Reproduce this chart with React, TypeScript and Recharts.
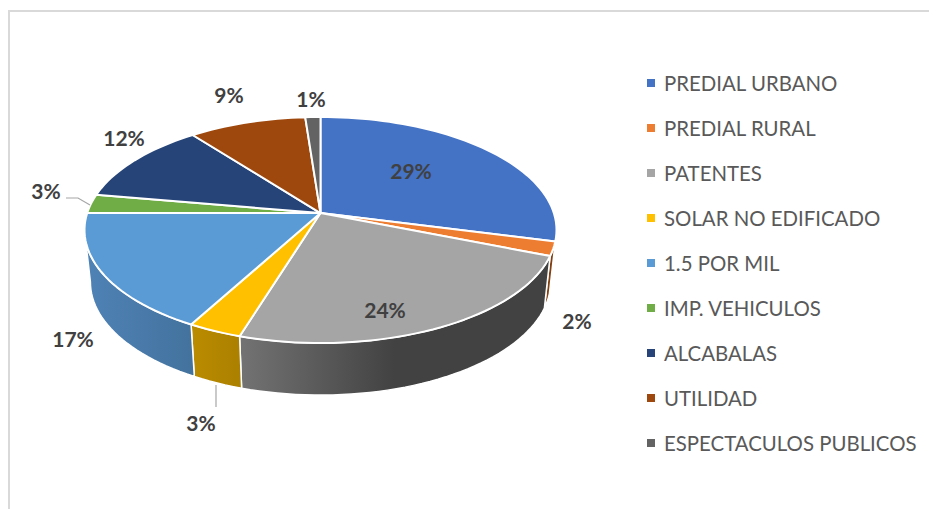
import React from "react";
import { PieChart, Pie, Legend } from "recharts";

const categories = [
  "PREDIAL URBANO",
  "PREDIAL RURAL",
  "PATENTES",
  "SOLAR NO EDIFICADO",
  "1.5 POR MIL",
  "IMP. VEHICULOS",
  "ALCABALAS",
  "UTILIDAD",
  "ESPECTACULOS PUBLICOS"
];
const shares = [29, 2, 23.8, 3.2, 17, 2.7, 11.8, 9.3, 1.2];
const colors = ["#4472C4", "#ED7D31", "#A5A5A5", "#FFC000", "#5B9BD5", "#70AD47", "#264478", "#9E480E", "#636363"];

// side wall gradient per slice, only the front ones show
const wallStops = [
  ["#2f5597", "#2f5597"],
  ["#8a4413", "#7a3c10"],
  ["#737373", "#424242", "#424242"],
  ["#bb8c00", "#ab7f00"],
  ["#4f82b6", "#43729d"],
  ["#527f34", "#527f34"],
  ["#1c3258", "#1c3258"],
  ["#74350a", "#74350a"],
  ["#494949", "#494949"]
];

// label centres, placed by hand like the original
const labelSpots = [
  [411, 170],
  [577, 320],
  [385, 309],
  [201, 422],
  [73, 338],
  [46, 190],
  [124, 137],
  [229, 94],
  [311, 98]
];

const rows = categories.map((name, i) => ({ name, value: shares[i], fill: colors[i] }));

const TILT = 0.479;
const SHIFT = 0.15; // how far the apex sits behind the ellipse centre
const DEPTH = 52;
const BOTTOM_SCALE = 0.975;
const WALL_FROM = 104;
const WALL_TO = 261.4;

// theta is degrees clockwise from 12 o'clock
function project(cx: number, cy: number, r: number, theta: number, drop = false) {
  const t = (theta * Math.PI) / 180;
  const u = Math.sin(t);
  const v = Math.cos(t);
  const den = 1 + SHIFT * v;
  const X = (u * Math.sqrt(1 - SHIFT * SHIFT)) / den;
  const Y = (v + SHIFT) / den;
  return {
    x: cx + r * X * (drop ? BOTTOM_SCALE : 1),
    y: cy - r * TILT * Y + (drop ? DEPTH : 0)
  };
}

function rim(cx: number, cy: number, r: number, from: number, to: number, drop = false) {
  const steps = Math.max(2, Math.ceil(Math.abs(to - from) / 2));
  const pts: string[] = [];
  for (let k = 0; k <= steps; k++) {
    const p = project(cx, cy, r, from + ((to - from) * k) / steps, drop);
    pts.push(`${p.x.toFixed(2)} ${p.y.toFixed(2)}`);
  }
  return pts;
}

const Slice3D = (props: any) => {
  const { cx, cy, outerRadius, startAngle, endAngle, fill, name } = props;
  const i = categories.indexOf(name);
  const from = 90 - startAngle;
  const to = 90 - endAngle;
  const apexY = cy - outerRadius * TILT * SHIFT;
  const top = `M ${cx} ${apexY} L ${rim(cx, cy, outerRadius, from, to).join(" L ")} Z`;
  const a = Math.max(from, WALL_FROM);
  const b = Math.min(to, WALL_TO);
  const stops = wallStops[i];
  return (
    <g>
      {a < b && (
        <g>
          <defs>
            <linearGradient id={`wall-${i}`} x1="0" y1="0" x2="1" y2="0">
              {stops.map((c, k) => (
                <stop key={k} offset={k / (stops.length - 1)} stopColor={c} />
              ))}
            </linearGradient>
          </defs>
          <path
            d={`M ${rim(cx, cy, outerRadius, a, b).join(" L ")} L ${rim(cx, cy, outerRadius, b, a, true).join(" L ")} Z`}
            fill={`url(#wall-${i})`}
            stroke="#fff"
            strokeWidth={1.5}
            strokeLinejoin="round"
          />
        </g>
      )}
      <path d={top} fill={fill} stroke="#fff" strokeWidth={2} strokeLinejoin="round" />
    </g>
  );
};

const PercentLabel = (props: any) => {
  const { percent, index } = props;
  const [x, y] = labelSpots[index];
  return (
    <g>
      {index === 5 && <polyline points="66,198 78,198 90,205" fill="none" stroke="#a6a6a6" strokeWidth={1.2} />}
      {index === 3 && <line x1={216} y1={385} x2={216} y2={407} stroke="#a6a6a6" strokeWidth={1.2} />}
      <text
        x={x}
        y={y}
        textAnchor="middle"
        dominantBaseline="central"
        fontFamily="Lato, sans-serif"
        fontWeight={700}
        fontSize={21}
        fill="#404040"
      >
        {`${Math.round(percent * 100)}%`}
      </text>
    </g>
  );
};

const LegendList = ({ payload }: any) => (
  <div>
    {(payload || []).map((entry: any) => (
      <div key={entry.value} style={{ height: 45, display: "flex", alignItems: "center" }}>
        <span style={{ width: 8, height: 8, background: entry.color, marginRight: 9, flex: "none" }} />
        <span style={{ fontFamily: "Lato, sans-serif", fontSize: 20.4, color: "#595959", whiteSpace: "nowrap" }}>
          {entry.value}
        </span>
      </div>
    ))}
  </div>
);

export default function App() {
  return (
    <div style={{ position: "absolute", left: 0, top: 0, width: 929, height: 509, background: "#fff", overflow: "hidden" }}>
      <div
        style={{
          position: "absolute",
          left: 8,
          top: 10,
          width: 921,
          height: 499,
          boxSizing: "border-box",
          borderTop: "2px solid #d9d9d9",
          borderLeft: "2px solid #d9d9d9"
        }}
      />
      <PieChart width={929} height={509} margin={{ top: 0, right: 0, bottom: 0, left: 0 }} style={{ position: "absolute", left: 0, top: 0 }}>
        <Pie
          data={rows}
          dataKey="value"
          nameKey="name"
          cx={320.5}
          cy={230}
          outerRadius={236}
          startAngle={90}
          endAngle={-270}
          stroke="none"
          isAnimationActive={false}
          shape={Slice3D}
          label={PercentLabel}
          labelLine={false}
        />
        <Legend
          layout="vertical"
          align="right"
          verticalAlign="middle"
          content={LegendList}
          itemSorter={null}
          wrapperStyle={{ position: "absolute", left: 647, top: 60, right: "auto", bottom: "auto", width: 282 }}
        />
      </PieChart>
    </div>
  );
}
